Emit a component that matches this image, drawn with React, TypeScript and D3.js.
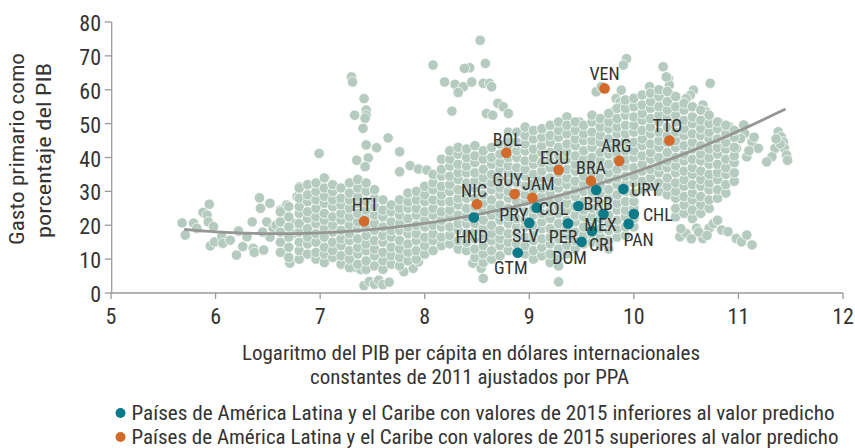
import * as d3 from 'd3';

// Axis ticks
const xTicks = [5, 6, 7, 8, 9, 10, 11, 12];
const yTicks = [0, 10, 20, 30, 40, 50, 60, 70, 80];

// Highlighted LAC countries, below predicted value (2015)
const belowCodes = ['HND', 'PRY', 'SLV', 'GTM', 'COL', 'PER', 'DOM', 'BRB', 'MEX', 'CRI', 'URY', 'CHL', 'PAN'];
const belowX = [8.47, 9.07, 9.0, 8.89, 9.47, 9.37, 9.5, 9.64, 9.71, 9.6, 9.9, 10.0, 9.95];
const belowY = [22.3, 25.2, 20.7, 11.9, 25.7, 20.5, 15.1, 30.4, 23.3, 18.3, 30.7, 23.3, 20.4];

// Highlighted LAC countries, above predicted value (2015)
const aboveCodes = ['HTI', 'NIC', 'GUY', 'JAM', 'BOL', 'ECU', 'BRA', 'ARG', 'VEN', 'TTO'];
const aboveX = [7.42, 8.5, 8.86, 9.03, 8.78, 9.28, 9.59, 9.86, 9.72, 10.34];
const aboveY = [21.2, 26.2, 29.2, 28.1, 41.4, 36.3, 33.1, 39.0, 60.4, 45.0];

// Quadratic fit (vertex form)
const fitVertexX = 6.6;
const fitMinY = 17.5;
const fitCurv = 1.565;
const fitRange = [5.7, 11.47];

// Other countries/years: scattered points
const cloudSparse: [number, number][] = [
  [5.68, 20.7], [5.71, 17.1], [5.79, 20.6], [5.82, 19.1], [5.88, 23.8], [5.94, 26.2], [5.92, 23], [5.93, 21],
  [5.98, 19.6], [5.95, 13.9], [5.99, 15.1], [6.06, 16.6], [6.07, 14.7], [6.14, 15.6], [6.2, 11.2], [6.22, 18.3],
  [6.26, 13.7], [6.3, 16.6], [6.35, 21], [6.36, 13.2], [6.37, 12], [6.42, 28.1], [6.43, 25], [6.46, 12.7],
  [6.52, 26.5], [6.49, 21], [6.55, 19.1], [6.62, 24.5], [6.68, 26], [6.7, 19.1], [6.71, 8.8], [6.74, 20.6],
  [6.78, 28.4], [6.8, 31.4], [6.58, 20], [6.74, 17.5], [6.52, 16.5], [6.45, 18],
  [6.99, 41.2], [7.3, 63.8], [7.31, 62.3], [7.42, 57.4], [7.44, 54], [7.44, 52.5], [7.43, 51.6], [7.33, 52.5],
  [7.41, 48.6], [7.65, 45.8], [7.44, 43.7], [7.54, 42.9], [7.35, 39.2], [7.46, 39.9], [7.43, 37.3], [7.76, 41.7],
  [7.76, 35.8], [7.86, 37.6], [7.94, 36.6], [8.02, 36.3], [8.08, 67.3], [8.19, 62.3], [8.29, 61.6], [8.37, 60.9],
  [8.32, 59.2], [8.45, 62.3], [8.56, 61.9], [8.43, 66.5], [8.38, 66.3], [8.53, 74.6], [8.58, 67.8], [8.26, 53.7],
  [8.59, 53], [8.62, 61.9], [8.64, 60.9], [8.7, 56], [8.75, 55], [8.8, 53], [8.65, 52.5], [9.36, 52], [9.48, 50.5],
  [9.64, 59.4], [9.69, 60.9], [9.83, 57.4], [9.88, 59.9], [9.93, 69.2], [9.9, 67.3], [9.8, 53.5], [9.87, 56.4],
  [9.9, 55.4], [10.28, 66.8], [10.33, 63.3], [10.34, 61.4], [10.15, 60.9], [10.2, 58.9], [10.25, 57.4],
  [10.31, 63.8], [10.73, 61.9], [10.57, 59.9], [10.54, 58.4], [10.5, 57.4], [10.36, 58.4], [10.66, 55.5],
  [10.69, 53.5],
  [10.82, 50.1], [10.91, 49.1], [10.97, 47.6], [11.05, 49.6], [11.06, 47.1], [11.13, 44.6], [11.19, 42.7],
  [11.08, 40.2], [10.98, 42.7], [11.02, 45.6], [11.1, 42], [11.15, 46],
  [11.38, 47.6], [11.41, 46.1], [11.43, 44.6], [11.44, 42.7], [11.46, 40.7], [11.47, 39.2], [11.35, 42.7],
  [11.32, 40.2], [11.27, 38.7], [11.4, 44], [11.36, 45.5],
  [10.44, 16.6], [10.5, 17.6], [10.6, 19.1], [10.66, 16.1], [10.72, 19.1], [10.76, 20.5], [10.8, 21.5],
  [10.84, 18.6], [10.9, 18.1], [10.98, 16.1], [11.03, 15.1], [11.08, 17.1], [11.13, 14.2], [10.44, 23.5],
  [10.57, 26], [10.63, 24], [10.45, 19], [10.55, 16], [10.62, 18], [10.7, 17],
  [7.42, 2.2], [7.47, 3.4], [7.52, 2.6], [7.56, 3.8], [7.6, 2.5], [7.66, 3.2], [7.8, 6.3], [7.89, 7.3],
  [7.94, 9.2], [8.56, 4.3], [8.46, 8.8], [8.54, 7.3], [9.28, 3.3], [7.33, 7.6], [7.39, 6.9],
];

// Dense core of the cloud, column by column (x, y values)
const cloudColumns: [number, string][] = [
  [6.62, '12 15 18 21 24'],
  [6.70, '10.5 13.5 16.5 19.5 22.5 25.5'],
  [6.80, '10 12.5 15 18 20.5 23.5 25.5 28 31'],
  [6.88, '11.5 14.5 16.5 19 22 24 27 29 32'],
  [6.96, '10 12 15 17.5 20.5 22.5 25 27.5 30 32.5'],
  [7.04, '9 11.5 13.5 16.5 19 21.5 23.5 26.5 28.5 31 34'],
  [7.12, '10.5 12.5 15 18 20 22.5 25.5 27.5 30 32'],
  [7.20, '8.5 11 14 16 18.5 21.5 23.5 26 28 31'],
  [7.28, '7.5 10 12.5 15.5 17.5 20 22.5 25 27.5 29.5 32.5'],
  [7.36, '8.5 11.5 13.5 16 19 21 23.5 26.5 28.5 31 33.5'],
  [7.44, '7 9.5 12.5 14.5 17 19.5 22.5 24.5 27 30 32.5'],
  [7.52, '8 11 13 15.5 18.5 20.5 23 25.5 28 30.5'],
  [7.60, '7 9.5 12 15 17 19.5 22.5 24.5 27.5'],
  [7.68, '8.5 11 13.5 16.5 18.5 21 24 26'],
  [7.76, '8 10.5 13 15.5 18.5 20.5 23 25 27.5'],
  [7.84, '9.5 12 14.5 17.5 19.5 22 25 27 29.5'],
  [7.92, '10 12.5 15.5 17.5 20 23 25 27.5 30'],
  [8.00, '11.5 14 16.5 19.5 21.5 24 27 29 31.5'],
  [8.08, '12.5 15.5 17.5 20 23 25 27.5 30.5 32.5 35'],
  [8.16, '14 16.5 19.5 21.5 24 27 29 31.5 34.5 36.5 39.5'],
  [8.24, '14.5 17 19.5 22.5 24.5 27 30 32 34.5 37.5 39.5 42'],
  [8.32, '13 15.5 18.5 20.5 23 26 28 30.5 33.5 35.5 38 41 43'],
  [8.40, '12.5 15 17.5 20.5 22.5 25 28 30 32.5 35.5 37.5 40 42.5'],
  [8.48, '10.5 13 16 18 20.5 23.5 25.5 28 31 33 35.5 38.5 40.5 43.5'],
  [8.56, '9 11.5 14 17 19 21.5 24.5 26.5 29 32 34 36.5 39.5 42'],
  [8.64, '10 12.5 15.5 17.5 20 23 25 27.5 30.5 32.5 35 38 40 43'],
  [8.72, '11 14 16 18.5 21.5 23.5 26 29 31 33.5 36.5 38.5 41 44'],
  [8.80, '12.5 15 17.5 20.5 22.5 25 28 30 32.5 35.5 37.5 40 43 45 47.5'],
  [8.88, '12 14.5 17.5 19.5 22 25 27 29.5 32.5 34.5 37 40 42 44.5 47.5'],
  [8.96, '11.5 14 16.5 19.5 21.5 24 27 29 31.5 34.5 36.5 39 42 44 46.5 49'],
  [9.04, '10 12.5 15.5 17.5 20 23 25 27.5 30.5 32.5 35 38 40 42.5 45.5 48'],
  [9.12, '11 13.5 16 19 21 23.5 26.5 28.5 31 34 36 38.5 41.5 43.5 46 48.5'],
  [9.20, '9 11.5 14.5 16.5 19 22 24 26.5 29.5 31.5 34 37 39 41.5 44.5 46.5 49.5'],
  [9.28, '8 10.5 13 16 18 20.5 23.5 25.5 28 31 33 35.5 38.5 40.5 43 46 48 50.5'],
  [9.36, '11.5 14 17 19 21.5 24.5 26.5 29 32 34 36.5 39.5 41.5 44 47 49.5'],
  [9.44, '13 15.5 18 21 23 25.5 28.5 30.5 33 36 38 40.5 43.5 45.5 48 50.5'],
  [9.52, '14.5 17 19.5 22.5 24.5 27 30 32 34.5 37.5 39.5 42 45 47 49.5'],
  [9.60, '15 17.5 20.5 22.5 25 28 30 32.5 35.5 37.5 40 43 45 47.5 50.5 52.5'],
  [9.68, '14 16.5 19 22 24 26.5 29.5 31.5 34 37 39 41.5 44.5 46.5 49 51.5'],
  [9.76, '13 15.5 18.5 20.5 23 26 28 30.5 33.5 35.5 38 41 43 45.5 48.5 50.5 53'],
  [9.84, '16.5 19 21.5 24.5 26.5 29 32 34 36.5 39.5 41.5 44 47 49 51.5 54.5'],
  [9.92, '17 19.5 22.5 24.5 27 30 32 34.5 37.5 39.5 42 45 47 49.5 52.5 54.5 57'],
  [10.00, '19.5 22 25 27 29.5 32.5 34.5 37 40 42 44.5 47.5 49.5 52 55 57.5'],
  [10.08, '30.5 33 36 38 40.5 43.5 45.5 48 51 53 55.5 58.5'],
  [10.16, '31.5 34 36.5 39.5 41.5 44 47 49 51.5 54.5 56.5 59'],
  [10.24, '30 32.5 35.5 37.5 40 43 45 47.5 50.5 52.5 55 58 60'],
  [10.32, '29 31.5 34 37 39 41.5 44.5 46.5 49 52 54 56.5 59.5'],
  [10.40, '22.5 25 28 30 32.5 35.5 37.5 40 43 45 47.5 50.5 52.5 55 58'],
  [10.48, '23.5 26 28.5 31.5 33.5 36 39 41 43.5 46.5 48.5 51 54 56'],
  [10.56, '22 24.5 27.5 29.5 32 35 37 39.5 42.5 44.5 47 50 52 55'],
  [10.64, '23.5 26 28.5 31.5 33.5 36 39 41 43.5 46.5 48.5 51 54'],
  [10.72, '25 27.5 30.5 32.5 35 38 40 42.5 45.5 47.5 50 52.5'],
  [10.80, '28 30.5 33.5 35.5 38 41 43 45.5 48.5 50.5'],
  [10.88, '29.5 32 35 37 39.5 42.5 44.5 47 49.5'],
  [10.96, '33 35.5 38.5 40.5 43 46 48'],
];

// label placement relative to the dot (px)
const labelOffset: Record<string, [number, number]> = {
  VEN: [0, -15], BOL: [1, -13], ECU: [-4, -13], ARG: [-3, -15], BRA: [0, -13], TTO: [-2, -15],
  GUY: [-7, -15], JAM: [6, -14], NIC: [-3, -14], HTI: [0, -17],
  HND: [-2, 19], PRY: [-23, 7], SLV: [-4, 13], GTM: [-7, 15], COL: [-25, 3], PER: [-5, 13],
  DOM: [-12, 16], BRB: [2, 13], MEX: [-3, 10], CRI: [9, 13], URY: [22, 0], CHL: [24, 0], PAN: [10, 16],
};

const W = 855, H = 448;
const FONT = "'Liberation Sans Narrow', 'Arial Narrow', 'Roboto Condensed', sans-serif";
const CLOUD = '#b5cbbf';
const TEAL = '#0b7a89';
const ORANGE = '#d36a2a';
const AXIS = '#9a9a9a';
const TEXT = '#333333';

export default function App() {
  const x = d3.scaleLinear().domain([5, 12]).range([111, 843]);
  const y = d3.scaleLinear().domain([0, 80]).range([293, 22]);

  const core: [number, number][] = cloudColumns.flatMap(([cx, ys]) =>
    ys.split(' ').map((v) => [cx, +v] as [number, number])
  );
  const cloud = [...cloudSparse, ...core];

  const fitXs = d3.range(fitRange[0], fitRange[1] + 0.001, 0.05);
  const fitPath = d3.line<number>()
    .x((d) => x(d))
    .y((d) => y(fitMinY + fitCurv * (d - fitVertexX) ** 2))
    .curve(d3.curveBasis)(fitXs);

  const below = belowCodes.map((c, i) => ({ code: c, x: belowX[i], y: belowY[i], color: TEAL }));
  const above = aboveCodes.map((c, i) => ({ code: c, x: aboveX[i], y: aboveY[i], color: ORANGE }));
  const highlights = [...below, ...above];

  const axisLeft = x(5) + 0.7;

  return (
    <svg width={W} height={H} style={{ position: 'absolute', left: 0, top: 0, background: '#fff' }}
      fontFamily={FONT}>
      {/* cloud */}
      <g>
        {cloud.map((d, i) => (
          <circle key={i} cx={x(d[0])} cy={y(d[1])} r={5.2} fill={CLOUD} stroke="#ffffff" strokeWidth={0.7} />
        ))}
      </g>

      {/* fitted curve */}
      <path d={fitPath ?? ''} fill="none" stroke="#969696" strokeWidth={2.8} />

      {/* axes */}
      <g stroke={AXIS} strokeWidth={1.3}>
        <line x1={x(5)} x2={x(12)} y1={y(0)} y2={y(0)} />
        <line x1={axisLeft} x2={axisLeft} y1={y(0)} y2={y(80)} />
        {xTicks.map((t) => (
          <line key={'xt' + t} x1={x(t)} x2={x(t)} y1={y(0)} y2={y(0) + 6} />
        ))}
        {yTicks.map((t) => (
          <line key={'yt' + t} x1={axisLeft - 7} x2={axisLeft} y1={y(t)} y2={y(t)} />
        ))}
      </g>
      <g fill={TEXT} fontSize={22}>
        {xTicks.map((t) => (
          <text key={'xl' + t} x={x(t)} y={y(0) + 31} textAnchor="middle">{t}</text>
        ))}
        {yTicks.map((t) => (
          <text key={'yl' + t} x={101} y={y(t) + 9} textAnchor="end">{t}</text>
        ))}
      </g>

      {/* highlighted countries */}
      <g>
        {highlights.map((d) => (
          <circle key={d.code} cx={x(d.x)} cy={y(d.y)} r={5.3} fill={d.color} />
        ))}
      </g>
      <g fill={TEXT} fontSize={18} textAnchor="middle">
        {highlights.map((d) => {
          const [dx, dy] = labelOffset[d.code];
          return (
            <text key={'l' + d.code} x={x(d.x) + dx} y={y(d.y) + dy} dominantBaseline="central">{d.code}</text>
          );
        })}
      </g>

      {/* axis titles */}
      <g fill={TEXT} fontSize={20}>
        <text x={242} y={359.5} textLength={458} lengthAdjust="spacingAndGlyphs">
          Logaritmo del PIB per cápita en dólares internacionales
        </text>
        <text x={310} y={383.5} textLength={319} lengthAdjust="spacingAndGlyphs">
          constantes de 2011 ajustados por PPA
        </text>
        <g transform="rotate(-90)">
          <text x={-245} y={23.5} textLength={192} lengthAdjust="spacingAndGlyphs">Gasto primario como</text>
          <text x={-238} y={51} textLength={175} lengthAdjust="spacingAndGlyphs">porcentaje  del PIB</text>
        </g>
      </g>

      {/* legend */}
      <g fontSize={20} fill={TEXT}>
        <circle cx={120.5} cy={413} r={5} fill={TEAL} />
        <text x={131.5} y={419.5} textLength={703} lengthAdjust="spacingAndGlyphs">
          Países de América Latina y el Caribe con valores de 2015 inferiores al valor predicho
        </text>
        <circle cx={120.5} cy={437} r={5} fill={ORANGE} />
        <text x={131.5} y={443.5} textLength={707} lengthAdjust="spacingAndGlyphs">
          Países de América Latina y el Caribe con valores de 2015 superiores al valor predicho
        </text>
      </g>
    </svg>
  );
}
